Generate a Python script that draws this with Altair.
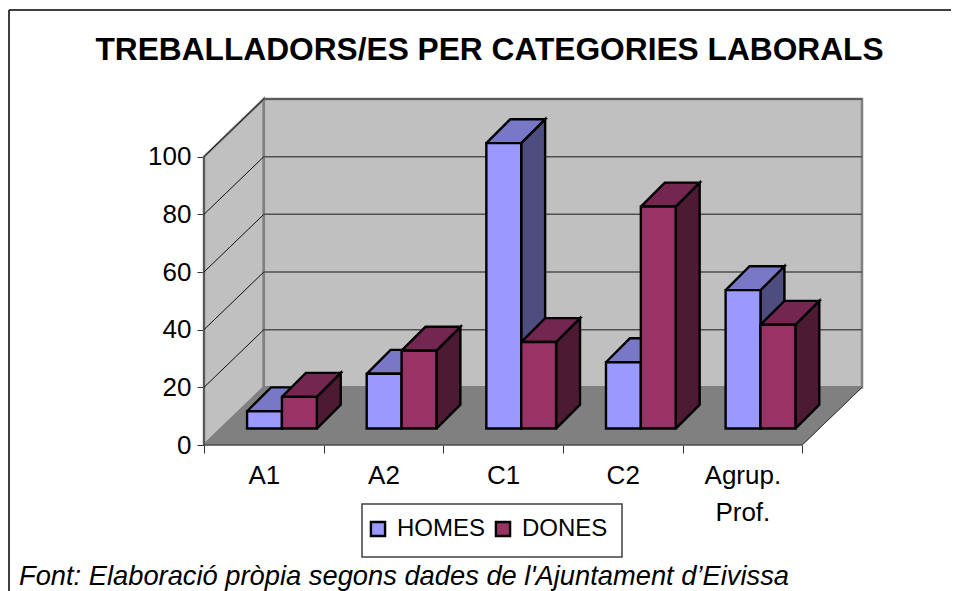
import altair as alt
import pandas as pd

# ---- values ----
categories = [["A1"], ["A2"], ["C1"], ["C2"], ["Agrup.", "Prof."]]
homes = [6, 19, 99, 23, 48]
dones = [11, 27, 30, 77, 36]
y_ticks = [0, 20, 40, 60, 80, 100]
title_text = "TREBALLADORS/ES PER CATEGORIES LABORALS"
footer_text = "Font: Elaboració pròpia segons dades de l'Ajuntament d’Eivissa"

series_names = ["HOMES", "DONES"]
front_colors = ["#9999FF", "#993366"]
top_colors = ["#7878C6", "#732650"]
side_colors = ["#4D4D80", "#4D1A33"]

FONT = "Liberation Sans"
# 3-D projection in data units
WALL_DX, WALL_DY = 0.5, 20
BAR_W, BAR_GAP = 0.2915, 0.36
BAR_DX, BAR_DY = 0.2, 8.3
BASE_Y = 5.7

x_scale = alt.Scale(domain=[0, 5.5], nice=False, zero=False)
y_scale = alt.Scale(domain=[0, 120], nice=False, zero=False)
n_cat = len(categories)

label_list = "[" + ",".join("[" + ",".join(f"'{s}'" for s in c) + "]" for c in categories) + "]"
x_axis = alt.Axis(
    values=[v / 2 for v in range(0, 2 * n_cat + 1)],
    title=None,
    grid=False,
    domain=False,
    tickSize=8,
    tickColor="#303030",
    tickWidth=1,
    tickOpacity={"condition": {"test": "datum.value % 1 === 0", "value": 1}, "value": 0},
    labelExpr=f"datum.value % 1 ? {label_list}[floor(datum.value)] : ''",
    labelFont=FONT,
    labelFontSize=26,
    labelColor="black",
    labelLineHeight=37,
    labelPadding=9,
    labelOverlap=False,
    labelBound=False,
    labelFlush=False,
)
y_axis = alt.Axis(
    values=y_ticks,
    title=None,
    grid=False,
    domain=False,
    tickSize=7,
    tickColor="#303030",
    tickWidth=1,
    labelFont=FONT,
    labelFontSize=26,
    labelColor="black",
    labelPadding=6,
    labelOverlap=False,
)
X = alt.X("x:Q", scale=x_scale, axis=x_axis)
Y = alt.Y("y:Q", scale=y_scale, axis=y_axis)


def polygons(rows):
    """rows: list of (id, [(x, y), ...]) -> closed outlines as a table."""
    out = []
    for pid, pts in rows:
        for i, (x, y) in enumerate(list(pts) + [pts[0]]):
            out.append({"pid": pid, "i": i, "x": x, "y": y})
    return pd.DataFrame(out)


def poly_layer(rows, fill, stroke, width):
    return (
        alt.Chart(polygons(rows))
        .mark_line(fill=fill, stroke=stroke, strokeWidth=width, strokeJoin="miter", clip=False)
        .encode(x=X, y=Y, detail="pid:N", order="i:Q")
    )


# walls and floor
back_wall = [("back", [(WALL_DX, WALL_DY), (5 + WALL_DX, WALL_DY), (5 + WALL_DX, 100 + WALL_DY), (WALL_DX, 100 + WALL_DY)])]
side_wall = [("side", [(0, 0), (WALL_DX, WALL_DY), (WALL_DX, 100 + WALL_DY), (0, 100)])]
floor = [("floor", [(0, 0), (5, 0), (5 + WALL_DX, WALL_DY), (WALL_DX, WALL_DY)])]

edges = pd.DataFrame(
    [
        {"e": "front", "x": 0, "y": 0},
        {"e": "front", "x": 5, "y": 0},
        {"e": "front", "x": 5 + WALL_DX, "y": WALL_DY},
        {"e": "left", "x": 0, "y": 0},
        {"e": "left", "x": 0, "y": 100},
    ]
)
base = alt.Chart(edges).mark_line(stroke="#303030", strokeWidth=1).encode(x=X, y=Y, detail="e:N", order=alt.Order("y:Q"))

back_grid = pd.DataFrame(
    [{"v": v, "x": x, "y": v + WALL_DY} for v in y_ticks[1:] for x in (WALL_DX, 5 + WALL_DX)]
)
side_grid = pd.DataFrame(
    [{"v": v, "x": x, "y": y} for v in y_ticks[1:] for x, y in ((0, v), (WALL_DX, v + WALL_DY))]
)
grid_back = alt.Chart(back_grid).mark_line(stroke="#505050", strokeWidth=1.5).encode(x=X, y=Y, detail="v:N")
grid_side = alt.Chart(side_grid).mark_line(stroke="#101010", strokeWidth=1).encode(x=X, y=Y, detail="v:N")

layers = [
    poly_layer(side_wall, "#C0C0C0", "#808080", 2.5),
    poly_layer(back_wall, "#C0C0C0", "#808080", 2.5),
    poly_layer(floor, "#808080", "#808080", 1),
    base,
    grid_back,
    grid_side,
]

# bars
front_rows = []
for s, (name, vals) in enumerate(zip(series_names, [homes, dones])):
    side_rows, top_rows = [], []
    for c, v in enumerate(vals):
        x0 = c + BAR_GAP + s * BAR_W
        x1 = x0 + BAR_W
        y0 = BASE_Y
        y1 = BASE_Y + v
        front_rows.append({"series": name, "x": x0, "x1": x1, "y": y0, "y1": y1})
        side_rows.append((f"s{c}", [(x1, y0), (x1 + BAR_DX, y0 + BAR_DY), (x1 + BAR_DX, y1 + BAR_DY), (x1, y1)]))
        top_rows.append((f"t{c}", [(x0, y1), (x1, y1), (x1 + BAR_DX, y1 + BAR_DY), (x0 + BAR_DX, y1 + BAR_DY)]))
    layers.append(poly_layer(side_rows, side_colors[s], "black", 2.4))
    layers.append(poly_layer(top_rows, top_colors[s], "black", 2.4))

one = pd.DataFrame({"t": [title_text], "f": [footer_text]})

# legend frame, drawn under the legend
legend_box = alt.Chart(one).mark_rect(fill="white", stroke="#404040", strokeWidth=1.5).encode(
    x=alt.value(158), x2=alt.value(418), y=alt.value(405), y2=alt.value(458)
)
layers.append(legend_box)

fronts = (
    alt.Chart(pd.DataFrame(front_rows))
    .mark_rect(stroke="black", strokeWidth=2.4, clip=False)
    .encode(
        x=X,
        x2="x1:Q",
        y=Y,
        y2="y1:Q",
        color=alt.Color(
            "series:N",
            sort=series_names,
            scale=alt.Scale(domain=series_names, range=front_colors),
            legend=alt.Legend(
                title=None,
                orient="none",
                legendX=162,
                legendY=418,
                direction="horizontal",
                symbolType="square",
                symbolSize=200,
                symbolStrokeColor="black",
                symbolStrokeWidth=2.4,
                symbolOpacity=1,
                labelFont=FONT,
                labelFontSize=24,
                labelColor="black",
                labelOffset=7,
                columnPadding=5,
                padding=0,
            ),
        ),
    )
)
layers.append(fronts)

# frame lines, title and footer
top_line = alt.Chart(one).mark_rule(stroke="black", strokeWidth=1.5).encode(
    x=alt.value(-195), x2=alt.value(747), y=alt.value(-89)
)
left_line = alt.Chart(one).mark_rule(stroke="black", strokeWidth=1.5).encode(
    x=alt.value(-195), y=alt.value(-89), y2=alt.value(492)
)
title_mark = alt.Chart(one).mark_text(
    font=FONT, fontSize=31.7, fontWeight="bold", align="center", baseline="alphabetic", color="black"
).encode(x=alt.value(285.5), y=alt.value(-39), text="t:N")
footer = alt.Chart(one).mark_text(
    font=FONT, fontSize=27.3, fontStyle="italic", align="left", baseline="alphabetic", color="black"
).encode(x=alt.value(-185), y=alt.value(485.5), text="f:N")
layers += [top_line, left_line, title_mark, footer]

chart = (
    alt.layer(*layers, view=alt.ViewBackground(stroke="transparent", fill="transparent"))
    .properties(
        width=658,
        height=346,
        padding={"left": 196, "top": 91, "right": 89, "bottom": 146},
        autosize=alt.AutoSizeParams(type="none"),
    )
    .configure_view(stroke="transparent")
    .configure(background="white")
)

chart.save("out.html", embed_options={"renderer": "svg", "actions": False})
